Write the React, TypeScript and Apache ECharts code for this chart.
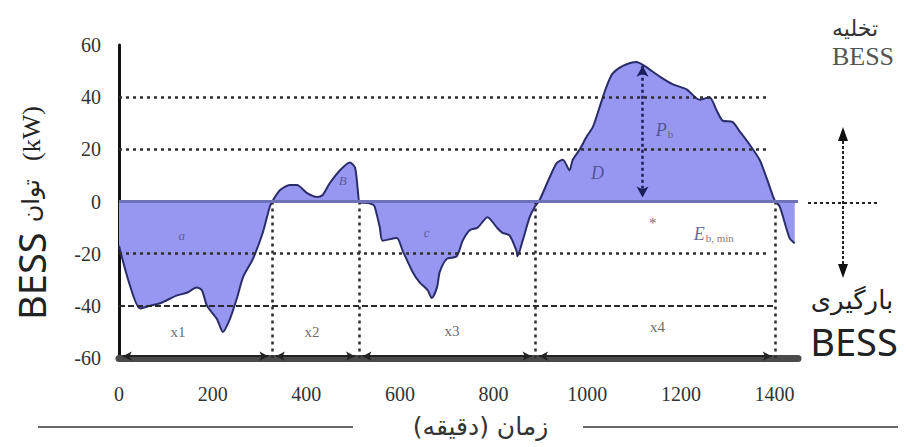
import React, { useEffect, useRef } from 'react';
import * as echarts from 'echarts';

// time (minutes) and BESS power (kW)
const timeMin = [0, 23, 45, 66, 88, 124, 145, 166, 177, 188, 209, 222, 237, 252, 265, 286, 307, 322, 329, 344, 365, 380, 401, 423, 435, 450, 472, 493, 504, 510, 514, 525, 540, 546, 557, 563, 593, 606, 627, 642, 659, 668, 679, 685, 700, 721, 734, 749, 766, 787, 807, 819, 834, 849, 851, 862, 877, 888, 898, 920, 935, 948, 962, 969, 984, 999, 1012, 1026, 1041, 1054, 1076, 1105, 1122, 1154, 1182, 1212, 1240, 1261, 1276, 1289, 1310, 1325, 1346, 1368, 1385, 1400, 1411, 1432, 1443];
const powerKw = [-17, -32, -41, -40, -39, -36, -35, -33, -34, -40, -45, -50, -45, -37, -29, -22, -12, -2, 0.5, 4.4, 6.3, 6.3, 3.3, 1.7, 2.5, 7, 12, 15, 13, 4.4, -0.5, -0.5, -1, -2, -10, -15, -14, -19, -27, -31, -34, -37, -33, -27, -22, -21, -15, -11, -10, -6, -10, -12, -13, -19, -21, -15, -6, -2, 0.5, 9.4, 14.8, 16, 12, 16, 20, 25, 28.6, 36, 44, 49, 52, 53.5, 52, 48, 45, 43, 39, 40, 35, 31, 30.5, 27, 22, 16, 8, 0.5, -2, -14, -16];

const xMin = 0;
const xMax = 1450;
const xStep = 200;
const yMin = -60;
const yMax = 60;
const yStep = 20;

const dottedLevels = [40, 20, -20];
const dashedLevels = [-40];
const guideEnd = 1390;
const segmentBounds = [0, 327, 512, 889, 1402];
const pbArrowX = 1118;
const pbArrowTop = 52;

const annX = [126, 412, 711, 1150, 134, 478, 657, 1022, 1165, 1140, 1270];
const annY = [-50, -50, -49.6, -48, -13, 8, -11.7, 11, 27.4, -8.2, -12.5];
const annText = ['x1', 'x2', 'x3', 'x4', '{it|a}', '{it|B}', '{it|c}', '{itl|D}', '{itl|P}{sub|b}', '*', '{itl|E}{sub|b, min}'];

const serif = 'Liberation Serif, Times New Roman, serif';
const arabic = 'DejaVu Sans, sans-serif';

export default function App() {
  const ref = useRef<HTMLDivElement>(null);

  useEffect(() => {
    if (!ref.current) return;
    const chart = echarts.init(ref.current, null, { renderer: 'svg' });

    const curve = timeMin.map((t, i) => [t, powerKw[i]]);
    const dotted = { type: [3, 4], color: '#2e2e2e', width: 2.5 };

    const guideLines: any[] = [];
    dottedLevels.forEach((lv) => {
      guideLines.push([{ coord: [xMin, lv], lineStyle: dotted }, { coord: [guideEnd, lv] }]);
    });
    dashedLevels.forEach((lv) => {
      guideLines.push([
        { coord: [xMin, lv], lineStyle: { type: [6, 3], color: '#2a2a2a', width: 2 } },
        { coord: [segmentBounds[segmentBounds.length - 1], lv] },
      ]);
    });
    segmentBounds.slice(1).forEach((b) => {
      guideLines.push([{ coord: [b, 0], lineStyle: dotted }, { coord: [b, yMin] }]);
    });
    for (let i = 0; i < segmentBounds.length - 1; i++) {
      guideLines.push([
        {
          coord: [segmentBounds[i] + 8, -59.3],
          symbol: 'arrow',
          symbolSize: [7, 9],
          lineStyle: { type: 'solid', color: '#222', width: 2 },
        },
        { coord: [segmentBounds[i + 1] - 8, -59.3], symbol: 'arrow', symbolSize: [7, 9] },
      ]);
    }
    guideLines.push([
      { coord: [xMin, 0], lineStyle: { type: 'solid', color: '#6c71b8', width: 3 } },
      { coord: [xMax, 0] },
    ]);
    guideLines.push([
      {
        coord: [pbArrowX, pbArrowTop],
        symbol: 'arrow',
        symbolSize: [9, 11],
        lineStyle: { type: [3, 3], color: '#1c1e5c', width: 2.5 },
      },
      { coord: [pbArrowX, 1.5], symbol: 'arrow', symbolSize: [9, 11] },
    ]);

    const annData = annX.map((x, i) => [x, annY[i], annText[i]]);

    const option: any = {
      animation: false,
      backgroundColor: '#ffffff',
      grid: { left: 119, right: 108, top: 45, bottom: 89 },
      xAxis: {
        type: 'value',
        min: xMin,
        max: xMax,
        interval: xStep,
        axisLine: { onZero: false, lineStyle: { color: '#4a4a4a', width: 7 } },
        axisTick: { show: false },
        splitLine: { show: false },
        axisLabel: {
          margin: 26,
          fontSize: 20,
          fontFamily: serif,
          color: '#333',
          formatter: (v: number) => (v % xStep === 0 ? String(v) : ''),
        },
        name: 'زمان (دقیقه)\u200F',
        nameLocation: 'middle',
        nameGap: 56,
        nameTextStyle: { fontFamily: arabic, fontSize: 25, color: '#333', padding: [0, 0, 0, 44] },
      },
      yAxis: {
        type: 'value',
        min: yMin,
        max: yMax,
        interval: yStep,
        axisLine: { onZero: false, lineStyle: { color: '#111', width: 3 } },
        axisTick: { show: false },
        splitLine: { show: false },
        axisLabel: { margin: 18, fontSize: 20, fontFamily: serif, color: '#333' },
        name: '{a|BESS}{b|توان}{c|(kW)}',
        nameLocation: 'middle',
        nameRotate: 90,
        nameGap: 68,
        nameTextStyle: {
          rich: {
            a: { fontFamily: 'Noto Sans, sans-serif', fontSize: 38, color: '#222', lineHeight: 40 },
            b: { fontFamily: arabic, fontSize: 24, color: '#222', lineHeight: 40, padding: [0, 18, 0, 10] },
            c: { fontFamily: serif, fontSize: 26, color: '#222', lineHeight: 40, padding: [0, 23, 0, 0] },
          },
        },
      },
      series: [
        {
          type: 'line',
          data: curve,
          z: 2,
          smooth: 0.25,
          symbol: 'none',
          lineStyle: { color: '#2b2d6b', width: 2 },
          areaStyle: { color: '#9797f2', opacity: 1 },
        },
        {
          type: 'line',
          data: [],
          z: 3,
          silent: true,
          markLine: {
            silent: true,
            symbol: 'none',
            label: { show: false },
            data: guideLines,
          },
        },
        {
          type: 'scatter',
          data: annData,
          z: 4,
          silent: true,
          symbolSize: 0,
          label: {
            show: true,
            position: 'inside',
            formatter: (p: any) => p.data[2],
            fontFamily: serif,
            fontSize: 15,
            color: '#444',
            rich: {
              it: { fontFamily: serif, fontStyle: 'italic', fontSize: 13, color: '#4a4c86' },
              itl: { fontFamily: serif, fontStyle: 'italic', fontSize: 18, color: '#3f4180' },
              sub: { fontFamily: serif, fontSize: 11, color: '#555', padding: [8, 0, 0, 1] },
            },
          },
        },
      ],
      graphic: [
        { type: 'line', silent: true, shape: { x1: 808, y1: 203, x2: 877, y2: 203 }, style: { stroke: '#222', lineWidth: 2, lineDash: [3, 3] } },
        { type: 'line', silent: true, shape: { x1: 843, y1: 136, x2: 843, y2: 268 }, style: { stroke: '#222', lineWidth: 2, lineDash: [3, 2] } },
        { type: 'polygon', silent: true, shape: { points: [[843, 127], [838, 141], [848, 141]] }, style: { fill: '#111' } },
        { type: 'polygon', silent: true, shape: { points: [[843, 278], [838, 264], [848, 264]] }, style: { fill: '#111' } },
        { type: 'line', silent: true, shape: { x1: 38, y1: 427, x2: 353, y2: 427 }, style: { stroke: '#666', lineWidth: 2 } },
        { type: 'line', silent: true, shape: { x1: 583, y1: 427, x2: 898, y2: 427 }, style: { stroke: '#666', lineWidth: 2 } },
        { type: 'text', silent: true, x: 855, y: 28, style: { text: 'تخلیه', fontFamily: arabic, fontSize: 22, fill: '#333', align: 'center', verticalAlign: 'middle' } },
        { type: 'text', silent: true, x: 863, y: 56, style: { text: 'BESS', fontFamily: serif, fontSize: 26, fill: '#555', align: 'center', verticalAlign: 'middle' } },
        { type: 'text', silent: true, x: 852, y: 300, style: { text: 'بارگیری', fontFamily: arabic, fontSize: 26, fill: '#222', align: 'center', verticalAlign: 'middle' } },
        { type: 'text', silent: true, x: 854, y: 341, style: { text: 'BESS', fontFamily: 'Noto Sans, sans-serif', fontSize: 38, fill: '#222', align: 'center', verticalAlign: 'middle' } },
      ],
    };

    chart.setOption(option);
    return () => chart.dispose();
  }, []);

  return (
    <div
      ref={ref}
      style={{ position: 'absolute', left: 0, top: 0, width: 906, height: 447, background: '#fff' }}
    />
  );
}
